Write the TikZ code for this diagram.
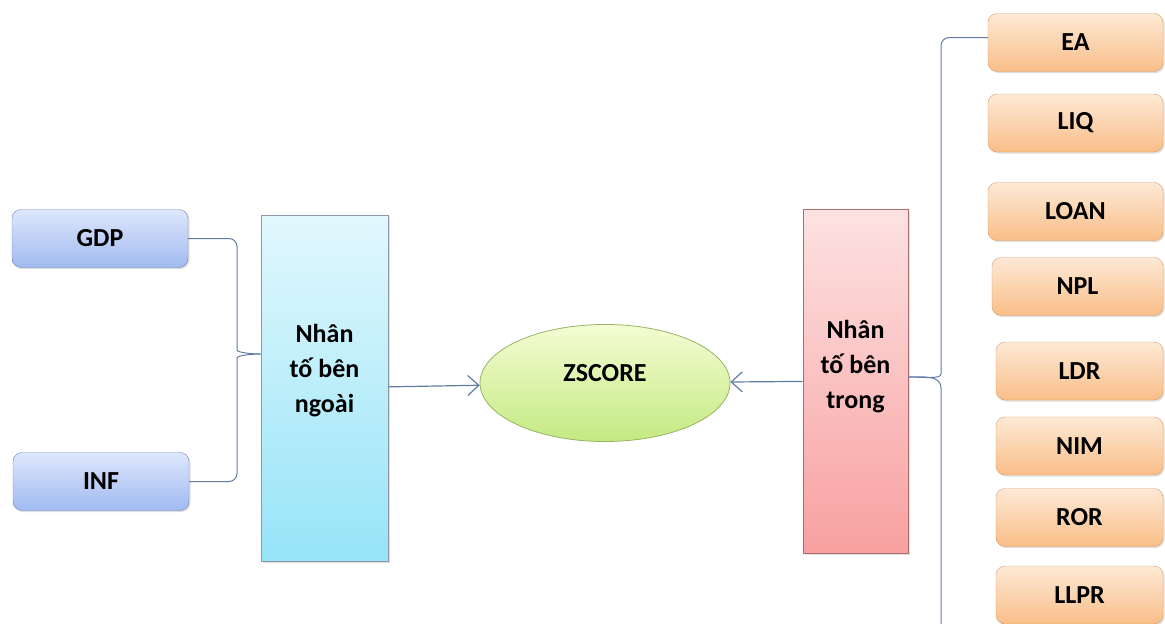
\documentclass[tikz,border=0pt]{standalone}
\usepackage{fontspec}
\setmainfont{Carlito}
\usetikzlibrary{shapes.geometric, arrows.meta, positioning, shadows}
\definecolor{macrotop}{RGB}{222,231,252}
\definecolor{macrobot}{RGB}{160,186,240}
\definecolor{macroedge}{RGB}{112,136,190}
\definecolor{exttop}{RGB}{226,248,253}
\definecolor{extbot}{RGB}{150,228,248}
\definecolor{extedge}{RGB}{140,152,165}
\definecolor{zstop}{RGB}{244,252,212}
\definecolor{zsbot}{RGB}{196,234,130}
\definecolor{zsedge}{RGB}{150,180,100}
\definecolor{inttop}{RGB}{253,226,226}
\definecolor{intbot}{RGB}{248,160,160}
\definecolor{intedge}{RGB}{170,110,110}
\definecolor{factop}{RGB}{253,233,214}
\definecolor{facbot}{RGB}{249,190,136}
\definecolor{facedge}{RGB}{214,160,112}
\definecolor{linkblue}{RGB}{98,124,168}
\tikzset{
  varbox/.style={rectangle, rounded corners=9pt, minimum height=58pt, inner sep=0pt,
                 font=\bfseries\fontsize{26}{34}\selectfont,
                 drop shadow={opacity=0.25, shadow xshift=1.5pt, shadow yshift=-1.5pt}},
  macrobox/.style={varbox, top color=macrotop, bottom color=macrobot, draw=macroedge},
  facbox/.style={varbox, top color=factop, bottom color=facbot, draw=facedge},
  groupbox/.style={rectangle, inner sep=0pt, line width=0.8pt,
                   drop shadow={opacity=0.25, shadow xshift=1.5pt, shadow yshift=-1.5pt}},
  grouptext/.style={align=center, font=\bfseries\fontsize{26}{35}\selectfont},
  link/.style={draw=linkblue, line width=1pt},
  flow/.style={-{Straight Barb[length=11pt, width=20pt]}, draw=linkblue, line width=1.2pt},
}

\begin{document}
\begin{tikzpicture}[x=1pt, y=-1pt]
  \useasboundingbox (0,0) rectangle (1165,624);

  % macro factors
  \node[macrobox, minimum width=176pt] (gdp) at (100,238.5) {GDP};
  \node[macrobox, minimum width=176pt] (inf) at (101,481.5) {INF};

  % the two groups and the target
  \node[groupbox, top color=exttop, bottom color=extbot, draw=extedge,
        minimum width=127pt, minimum height=346pt,
        label={[grouptext, yshift=17pt]center:Nhân\\tố bên\\ngoài}] (ext) at (324.5,388) {};
  \node[ellipse, inner sep=0pt, top color=zstop, bottom color=zsbot, draw=zsedge, line width=0.8pt,
        minimum width=250pt, minimum height=117pt,
        label={[grouptext, yshift=10pt]center:ZSCORE}] (zs) at (605,383) {};
  \node[groupbox, top color=inttop, bottom color=intbot, draw=intedge,
        minimum width=105pt, minimum height=344pt,
        label={[grouptext, yshift=14pt]center:Nhân\\tố bên\\trong}] (int) at (855.5,381) {};

  % bank factors
  \foreach \nm/\lx/\cy in {EA/988/42.5, LIQ/988/123, LOAN/988/211.5, NPL/992/286.5,
                           LDR/996/371, NIM/996/446, ROR/996/517.5, LLPR/996/595}
    \node[facbox, minimum width={1163-\lx}] (\nm) at ({(\lx+1163)/2},\cy) {\nm};

  % brace on the left
  \draw[link, rounded corners=8pt] (gdp.east) -| (237,342) to[out=-90, in=180] (ext.west |- 0,354);
  \draw[link, rounded corners=8pt] (inf.east) -| (237,366) to[out=90, in=180] (ext.west |- 0,354);

  % brace on the right
  \coordinate (rbot) at (941,640);
  \draw[link, rounded corners=8pt] (int.east |- 0,377) to[out=0, in=-90] (941,366) |- ([yshift=5pt]EA.west);
  \draw[link] (int.east |- 0,377) to[out=0, in=90] (941,388) -- (rbot);

  \draw[flow] (ext) -- (zs);
  \draw[flow] (int) -- (zs);
\end{tikzpicture}
\end{document}
